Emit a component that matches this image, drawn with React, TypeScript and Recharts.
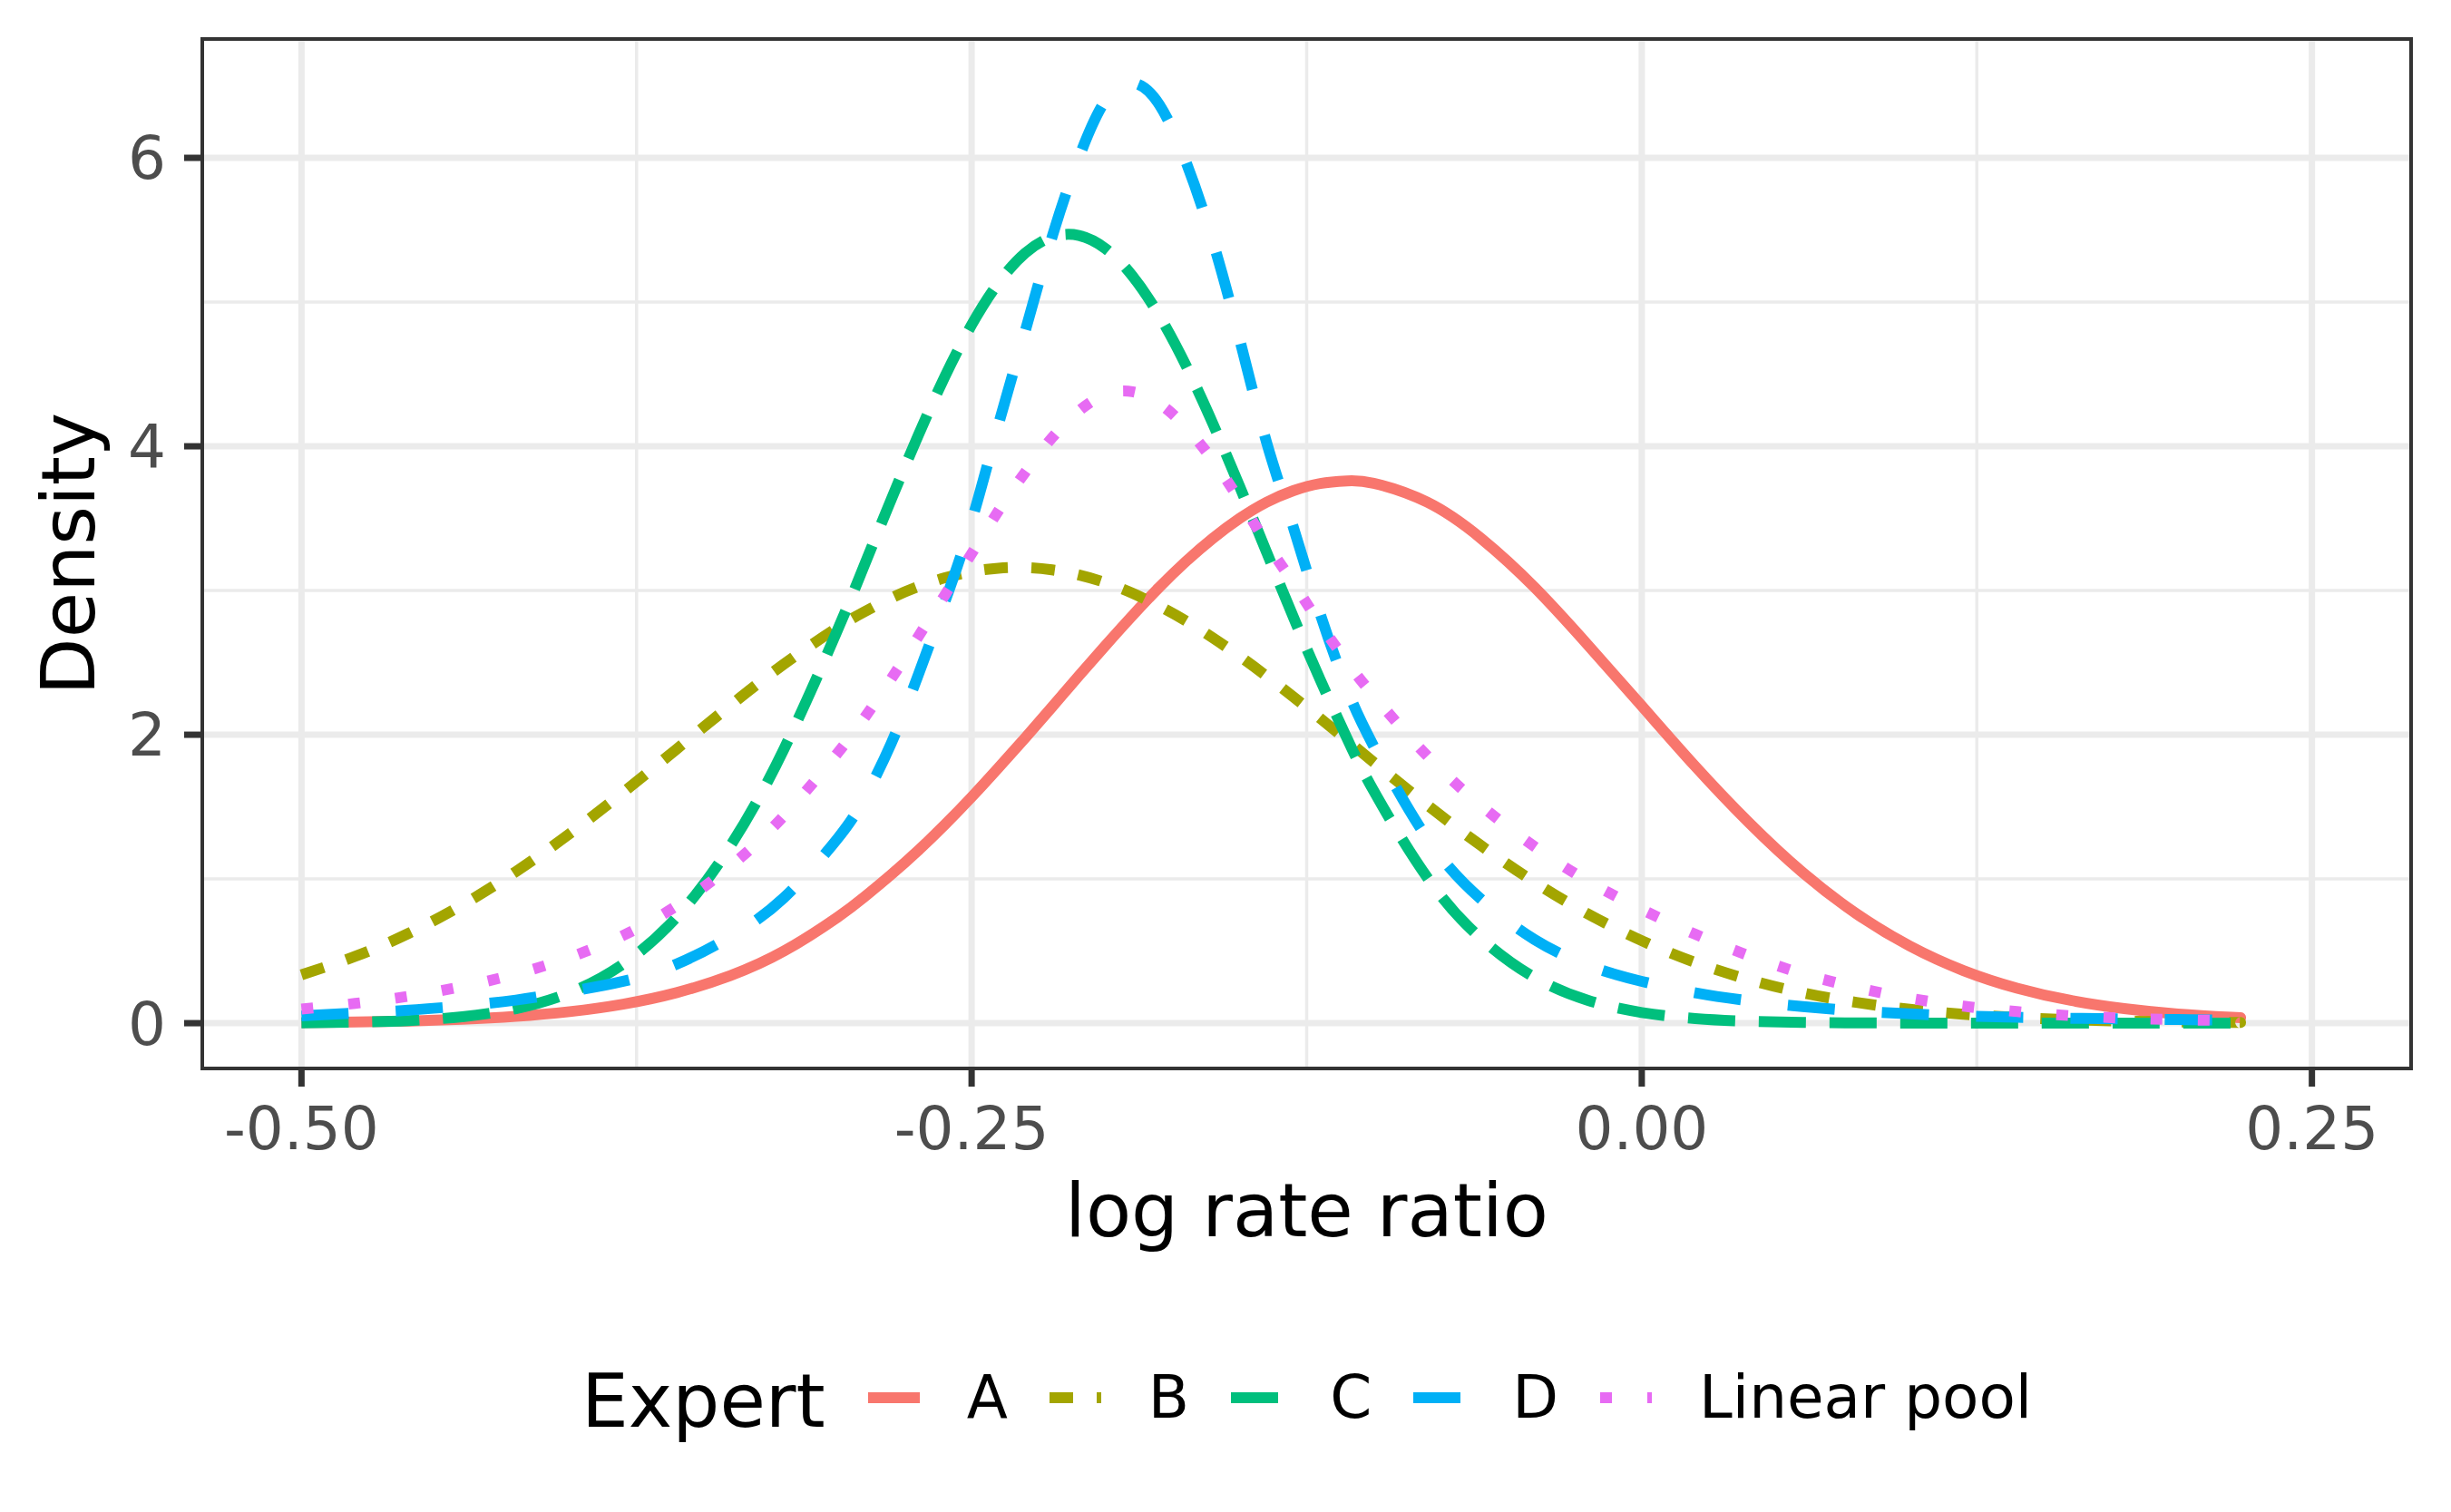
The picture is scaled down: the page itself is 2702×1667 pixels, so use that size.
import React from 'react';
import { LineChart, Line, XAxis, YAxis, CartesianGrid, ReferenceArea } from 'recharts';

// log rate ratio grid (finer around the peaks)
const xValues = [
  -0.5, -0.48, -0.46, -0.44, -0.42, -0.4, -0.38, -0.36, -0.34, -0.32,
  -0.3, -0.29, -0.28, -0.27, -0.26, -0.25, -0.24, -0.23, -0.22, -0.21,
  -0.2, -0.19, -0.18, -0.17, -0.16, -0.15, -0.14, -0.13, -0.12, -0.11,
  -0.1, -0.08, -0.06, -0.04, -0.02, 0, 0.02, 0.04, 0.06, 0.08,
  0.1, 0.12, 0.14, 0.16, 0.18, 0.2, 0.22, 0.2231,
];

const expertA = [
  0.004, 0.008, 0.015, 0.027, 0.047, 0.08, 0.132, 0.212, 0.33, 0.5,
  0.735, 0.875, 1.03, 1.196, 1.376, 1.568, 1.771, 1.979, 2.192, 2.408,
  2.62, 2.826, 3.022, 3.202, 3.362, 3.5, 3.612, 3.692, 3.742, 3.76,
  3.743, 3.612, 3.362, 3.022, 2.62, 2.2, 1.78, 1.39, 1.045, 0.76,
  0.535, 0.365, 0.243, 0.158, 0.101, 0.064, 0.041, 0.038,
];

const expertB = [
  0.335, 0.463, 0.623, 0.82, 1.051, 1.313, 1.6, 1.901, 2.203, 2.49,
  2.743, 2.853, 2.948, 3.027, 3.088, 3.131, 3.155, 3.159, 3.143, 3.108,
  3.054, 2.981, 2.892, 2.789, 2.672, 2.544, 2.407, 2.263, 2.114, 1.963,
  1.81, 1.512, 1.232, 0.978, 0.757, 0.572, 0.421, 0.302, 0.211, 0.144,
  0.096, 0.062, 0.04, 0.024, 0.015, 0.009, 0.005, 0.005,
];

const expertC = [
  0.002, 0.007, 0.018, 0.045, 0.101, 0.211, 0.41, 0.736, 1.229, 1.901,
  2.727, 3.176, 3.631, 4.072, 4.483, 4.842, 5.133, 5.34, 5.451, 5.462,
  5.37, 5.181, 4.906, 4.559, 4.157, 3.721, 3.268, 2.817, 2.383, 1.977,
  1.611, 1.01, 0.588, 0.317, 0.158, 0.074, 0.032, 0.013, 0.005, 0.002,
  0.001, 0, 0, 0, 0, 0, 0, 0,
];

const expertD = [
  0.05, 0.07, 0.09, 0.12, 0.16, 0.22, 0.29, 0.41, 0.6, 0.87,
  1.28, 1.56, 1.94, 2.41, 2.92, 3.48, 4.15, 4.8, 5.45, 6.0,
  6.4, 6.52, 6.37, 5.97, 5.42, 4.74, 4.03, 3.44, 2.84, 2.32,
  1.92, 1.28, 0.86, 0.58, 0.4, 0.29, 0.21, 0.155, 0.115, 0.085,
  0.065, 0.05, 0.041, 0.034, 0.029, 0.025, 0.022, 0.022,
];

const linearPool = [
  0.098, 0.137, 0.187, 0.254, 0.341, 0.456, 0.608, 0.814, 1.088, 1.438,
  1.873, 2.117, 2.387, 2.677, 2.968, 3.256, 3.552, 3.82, 4.059, 4.245,
  4.36, 4.378, 4.298, 4.13, 3.902, 3.626, 3.329, 3.053, 2.769, 2.505,
  2.27, 1.853, 1.51, 1.224, 0.984, 0.789, 0.616, 0.468, 0.343, 0.248,
  0.173, 0.118, 0.08, 0.052, 0.035, 0.024, 0.018, 0.017,
];

const seriesKeys = ['a', 'b', 'c', 'd', 'pool'];
const seriesNames = ['A', 'B', 'C', 'D', 'Linear pool'];
const seriesColors = ['#F8766D', '#A3A500', '#00BF7D', '#00B0F6', '#E76BF3'];
const seriesDashes = [undefined, '26 26', '52 26', '52 52', '13 39'];

const xTicks = [-0.5, -0.25, 0, 0.25];
const xMinor = [-0.375, -0.125, 0.125];
const yTicks = [0, 2, 4, 6];
const yMinor = [1, 3, 5];

const rows = xValues.map((x, i) => ({
  x,
  a: expertA[i],
  b: expertB[i],
  c: expertC[i],
  d: expertD[i],
  pool: linearPool[i],
}));

const FONT = '"DejaVu Sans", Verdana, sans-serif';
const W = 2702;
const H = 1667;
const X_DOMAIN: [number, number] = [-0.537, 0.287];
const Y_DOMAIN: [number, number] = [-0.314, 6.824];

const XTitle = (props: any) => {
  const vb = props.viewBox;
  return (
    <text x={vb.x + vb.width / 2} y={vb.y + 185} textAnchor="middle" fontSize={82} fontFamily={FONT} fill="#000">
      log rate ratio
    </text>
  );
};

const YTitle = (props: any) => {
  const vb = props.viewBox;
  const cx = vb.x + 104;
  const cy = vb.y + vb.height / 2;
  return (
    <text x={cx} y={cy} transform={`rotate(-90 ${cx} ${cy})`} textAnchor="middle" fontSize={82} fontFamily={FONT} fill="#000">
      Density
    </text>
  );
};

const tickStyle = { fontSize: 66, fill: '#4D4D4D', fontFamily: FONT };

const App: React.FC = () => {
  return (
    <div style={{ position: 'absolute', left: 0, top: 0, width: W, height: H, background: '#fff' }}>
      <LineChart width={W} height={H} data={rows} margin={{ top: 43, right: 44, bottom: 0, left: 0 }}>
        <CartesianGrid verticalValues={xMinor} horizontalValues={yMinor} stroke="#EBEBEB" strokeWidth={3.5} />
        <CartesianGrid verticalValues={xTicks} horizontalValues={yTicks} stroke="#EBEBEB" strokeWidth={7} />
        <XAxis
          type="number"
          dataKey="x"
          domain={X_DOMAIN}
          ticks={xTicks}
          interval={0}
          allowDataOverflow
          height={489}
          axisLine={false}
          tickLine={{ stroke: '#333333', strokeWidth: 7 }}
          tickSize={20}
          tickMargin={22}
          tick={tickStyle}
          tickFormatter={(v: number) => v.toFixed(2)}
          label={{ content: XTitle }}
        />
        <YAxis
          type="number"
          domain={Y_DOMAIN}
          ticks={yTicks}
          interval={0}
          allowDataOverflow
          width={223}
          axisLine={false}
          tickLine={{ stroke: '#333333', strokeWidth: 7 }}
          tickSize={20}
          tickMargin={20}
          tick={tickStyle}
          label={{ content: YTitle }}
        />
        {seriesKeys.map((k, i) => (
          <Line
            key={k}
            type="natural"
            dataKey={k}
            name={seriesNames[i]}
            stroke={seriesColors[i]}
            strokeWidth={12}
            strokeDasharray={seriesDashes[i]}
            strokeLinecap="butt"
            dot={false}
            activeDot={false}
            isAnimationActive={false}
          />
        ))}
        <ReferenceArea
          x1={X_DOMAIN[0]}
          x2={X_DOMAIN[1]}
          y1={Y_DOMAIN[0]}
          y2={Y_DOMAIN[1]}
          fill="none"
          fillOpacity={0}
          stroke="#333333"
          strokeWidth={4}
          ifOverflow="visible"
        />
      </LineChart>

      {/* legend, ggplot style at the bottom */}
      <div
        style={{
          position: 'absolute',
          left: 641,
          top: 1491,
          height: 100,
          display: 'flex',
          alignItems: 'center',
          fontFamily: FONT,
          color: '#000',
          whiteSpace: 'nowrap',
        }}
      >
        <span style={{ fontSize: 82, lineHeight: 1, marginRight: 47, position: 'relative', top: 4 }}>Expert</span>
        {seriesNames.map((n, i) => (
          <React.Fragment key={n}>
            <svg width={57} height={20} style={{ display: 'block', marginRight: 52 }}>
              <line
                x1={0}
                x2={57}
                y1={10}
                y2={10}
                stroke={seriesColors[i]}
                strokeWidth={12}
                strokeDasharray={seriesDashes[i]}
              />
            </svg>
            <span style={{ fontSize: 66, lineHeight: 1, marginRight: 46 }}>{n}</span>
          </React.Fragment>
        ))}
      </div>
    </div>
  );
};

export default App;
